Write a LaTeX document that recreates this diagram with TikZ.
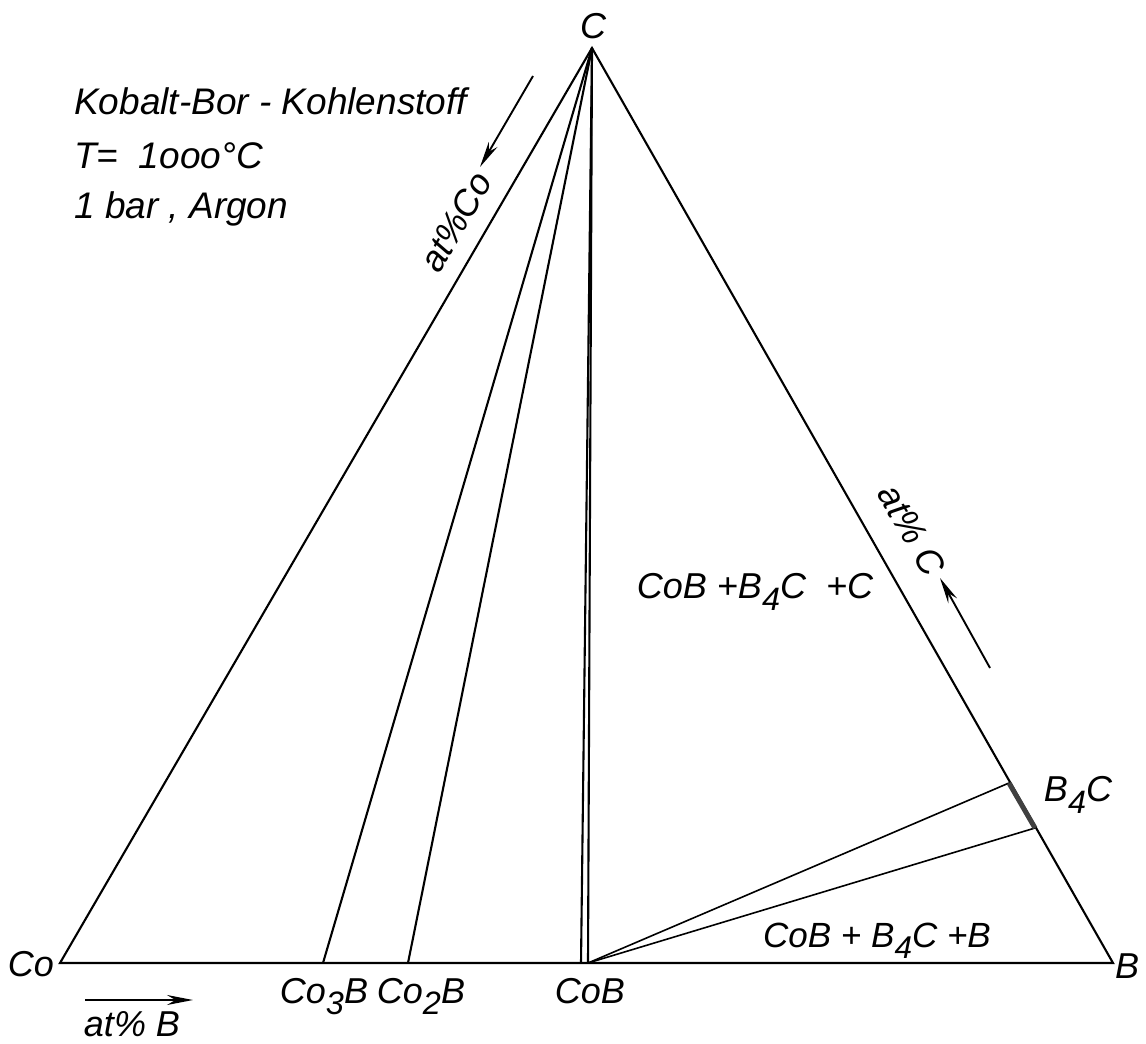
\documentclass[tikz,border=0pt]{standalone}
\usepackage{fontspec}
\setmainfont{Liberation Sans}
\usetikzlibrary{arrows.meta,positioning,calc}
\newcommand{\lowr}[1]{\raisebox{-0.32em}{\scalebox{0.9}{#1}}}
\tikzset{
  phaseline/.style={line width=2.1pt},
  tieline/.style={line width=1.6pt},
  phaselbl/.style={font=\fontsize{36}{40}\selectfont\itshape,inner sep=0pt},
  titlelbl/.style={font=\fontsize{37}{44}\selectfont\itshape,inner sep=0pt,anchor=base west},
  compdir/.style={-{Stealth[length=26pt,width=10pt]},line width=1.9pt}
}
\begin{document}
\begin{tikzpicture}[x=1pt,y=-1pt]
\useasboundingbox (0,0) rectangle (1146,1044);
% corners of the triangle
\coordinate (co) at (60,963);
\coordinate (b) at (1113,963);
\coordinate (c) at (592,48);
% phases
\coordinate (co3b) at (323,963);
\coordinate (co2b) at (408,963);
\coordinate (cobl) at (581,963);
\coordinate (cobr) at (588,963);
\coordinate (b4ctop) at (1009,783);
\coordinate (b4cbot) at (1035,828);
\draw[phaseline] (co) -- (b) -- (c) -- cycle;
\draw[phaseline] (c) -- (co3b);
\draw[phaseline] (c) -- (co2b);
\draw[phaseline] (c) -- (cobl);
\draw[phaseline] (c) -- (cobr);
\draw[tieline] (cobr) -- (b4ctop);
\draw[tieline] (cobr) -- (b4cbot);
\draw[line width=5pt,black!75] (b4ctop) -- (b4cbot);
% corner and phase labels
\node[phaselbl] (lc) at (593,26) {C};
\node[phaselbl] (lco) at (31,964) {Co};
\node[phaselbl] (lb) at (1127,966) {B};
\node[phaselbl,anchor=base] (lco3b) at (324,1003) {Co\lowr{3}B};
\node[phaselbl,anchor=base] (lco2b) at (421,1003) {Co\lowr{2}B};
\node[phaselbl,anchor=base] (lcob) at (590,1003) {CoB};
\node[phaselbl] (lb4c) at (1078,795) {B\lowr{4}C};
% fields
\node[phaselbl] (fieldc) at (755,592) {CoB +B\lowr{4}C\ \ +C};
\node[phaselbl,font=\fontsize{35}{38}\selectfont\itshape,anchor=base] (fieldb) at (877,947) {CoB + B\lowr{4}C +B};
% title
\node[titlelbl] (title1) at (74,114) {Kobalt-Bor - Kohlenstoff};
\node[titlelbl] (title2) at (74,168) {T=\ \ 1ooo°C};
\node[titlelbl] (title3) at (74,218) {1 bar , Argon};
% composition axes
\coordinate (aco1) at (533,76);
\coordinate (aco2) at (480,167);
\coordinate (ac1) at (990,668);
\coordinate (ac2) at (940,578);
\coordinate (ab1) at (85,1000);
\coordinate (ab2) at (193,1000);
\draw[compdir] (aco1) -- (aco2);
\draw[compdir] (ac1) -- (ac2);
\draw[compdir] (ab1) -- (ab2);
\node[phaselbl,rotate=60] (latco) at (456,222) {at\%Co};
\node[phaselbl,rotate=-60] (latc) at (912,530) {at\% C};
\node[phaselbl] (latb) at (132,1024) {at\% B};
\end{tikzpicture}
\end{document}
